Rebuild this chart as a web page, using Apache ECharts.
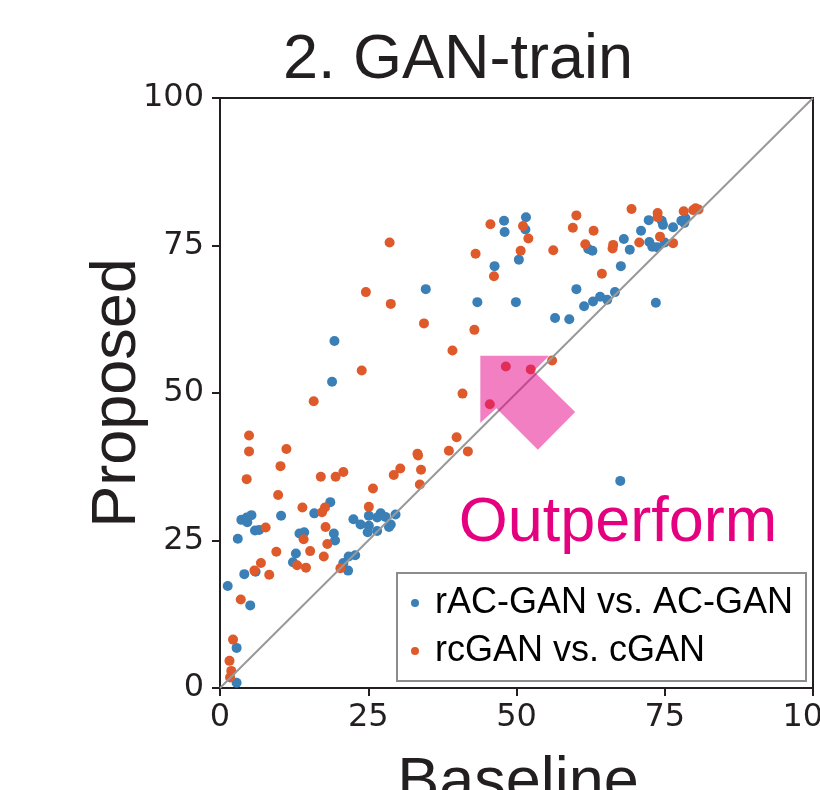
<!DOCTYPE html>
<html style="height: 100%">
    <head>
        <title>GAN-train</title>
        <meta charset="utf-8">
    </head>
    <body style="height: 100%; margin: 0; background: #fff">
        <div id="container" style="width: 820px; height: 790px"></div>

        <script type="text/javascript" src="https://cdn.jsdelivr.net/npm/echarts@6.0.0/dist/echarts.min.js"></script>
        <script type="text/javascript">
            // baseline / proposed scores
            var racgan = [
                [47.9, 79.2], [48.0, 77.3], [46.3, 71.5], [34.7, 67.6], [43.4, 65.4], [19.3, 58.8],
                [18.9, 51.9], [51.6, 79.8], [51.5, 77.7], [50.4, 72.6], [49.9, 65.4], [62.1, 74.4],
                [62.8, 74.1], [68.1, 76.1], [69.1, 74.3], [72.3, 79.3], [74.5, 79.2], [74.7, 78.5],
                [71.0, 77.5], [72.4, 75.6], [72.9, 74.8], [73.7, 74.7], [75.0, 75.5], [76.4, 78.1],
                [77.8, 79.2], [78.3, 78.8], [78.5, 79.6], [67.6, 71.5], [60.1, 67.6], [61.4, 64.7],
                [62.9, 65.5], [64.1, 66.3], [65.3, 65.8], [66.6, 67.1], [73.5, 65.3], [56.5, 62.7],
                [58.9, 62.5], [67.5, 35.1], [10.3, 29.2], [18.6, 31.5], [15.9, 29.6], [19.2, 26.2],
                [19.4, 25.0], [13.4, 26.2], [14.2, 26.4], [12.8, 22.8], [12.3, 21.3], [6.0, 19.7],
                [5.9, 26.7], [6.6, 26.8], [3.6, 28.5], [4.6, 28.1], [4.5, 28.9], [5.3, 29.3],
                [3.0, 25.3], [4.1, 19.3], [1.3, 17.3], [5.1, 14.0], [2.8, 6.8], [2.8, 0.9],
                [22.5, 28.6], [23.7, 27.7], [25.1, 29.2], [25.1, 27.5], [24.9, 26.4], [26.5, 26.6],
                [27.1, 29.6], [27.9, 29.0], [28.8, 27.7], [29.6, 29.4], [26.5, 28.9], [28.5, 27.3],
                [20.8, 21.2], [21.7, 22.3], [22.8, 22.5], [21.6, 19.9]
            ];
            var rcgan = [
                [45.6, 78.6], [28.6, 75.5], [43.1, 73.6], [46.2, 69.8], [24.6, 67.1], [28.8, 65.1],
                [34.4, 61.8], [42.9, 60.7], [39.2, 57.2], [23.9, 53.8], [48.2, 54.5], [52.4, 54.0],
                [45.5, 48.1], [51.1, 78.3], [52.0, 76.2], [50.7, 74.1], [56.2, 74.2], [60.1, 80.1],
                [59.5, 78.0], [63.0, 77.5], [61.6, 75.2], [66.3, 75.1], [66.2, 74.5], [69.4, 81.2],
                [73.8, 80.5], [73.8, 79.8], [70.7, 75.5], [74.2, 76.5], [76.4, 75.4], [78.2, 80.8],
                [79.8, 81.0], [80.2, 81.3], [80.7, 81.1], [64.4, 70.2], [56.0, 55.5], [15.8, 48.6],
                [40.9, 49.9], [4.9, 42.8], [4.9, 40.1], [11.2, 40.5], [10.2, 37.6], [4.5, 35.4],
                [9.8, 32.7], [17.0, 35.8], [19.5, 35.8], [20.8, 36.6], [13.9, 30.6], [17.2, 29.8],
                [17.7, 30.6], [17.8, 27.3], [18.1, 24.4], [17.5, 22.3], [15.2, 23.2], [14.1, 25.2],
                [13.0, 20.8], [14.5, 20.4], [9.5, 23.1], [6.9, 21.2], [5.8, 19.9], [8.3, 19.2],
                [7.7, 27.2], [3.5, 15.0], [2.2, 8.2], [1.6, 4.6], [1.9, 2.9], [1.7, 1.8],
                [25.1, 30.7], [25.8, 33.8], [29.3, 36.1], [30.4, 37.2], [33.3, 39.7], [33.4, 39.4],
                [33.9, 37.0], [33.7, 34.5], [38.6, 40.2], [39.9, 42.5], [41.8, 40.1], [20.3, 20.3]
            ];
            var diagonal = [[0, 0], [100, 100]];
            var tickValues = [0, 25, 50, 75, 100];
            // arrow outline in data units (points toward the "proposed is better" side)
            var arrow = [[43.9, 56.3], [55.5, 56.3], [52.9, 53.7], [59.9, 46.8], [53.6, 40.4], [46.6, 47.4], [43.9, 44.9]];

            var dark = '#231f20';
            var bigFont = '"Liberation Sans", Arial, sans-serif';
            var tickFont = '"DejaVu Sans", sans-serif';

            var dom = document.getElementById("container");
            var myChart = echarts.init(dom);

            var axisCommon = {
                type: 'value',
                min: 0,
                max: 100,
                interval: 25,
                splitLine: { show: false },
                axisLine: { show: true, lineStyle: { color: dark, width: 2 } },
                axisTick: { show: true, inside: false, length: 8, lineStyle: { color: dark, width: 2 } },
                axisLabel: {
                    fontFamily: tickFont,
                    fontSize: 32,
                    color: dark,
                    showMaxLabel: true,
                    showMinLabel: true,
                    formatter: function (v) { return tickValues.indexOf(v) >= 0 ? String(v) : ''; }
                }
            };

            var option = {
                animation: false,
                backgroundColor: '#fff',
                grid: {
                    left: 220, top: 98, width: 593, height: 590,
                    containLabel: false,
                    outerBoundsMode: 'none',
                    show: true, borderColor: dark, borderWidth: 2, backgroundColor: 'transparent'
                },
                xAxis: echarts.util.merge({ axisLabel: { margin: 14 } }, axisCommon, true),
                yAxis: echarts.util.merge({ axisLabel: { margin: 16 } }, axisCommon, true),
                legend: {
                    left: 397,
                    top: 573,
                    orient: 'vertical',
                    padding: [12, 13, 12, 14],
                    itemGap: 12,
                    itemWidth: 30,
                    itemHeight: 8,
                    icon: 'circle',
                    borderColor: '#8c8c8c',
                    borderWidth: 2,
                    backgroundColor: '#fff',
                    textStyle: { fontFamily: bigFont, fontSize: 36, color: '#000' },
                    data: ['rAC-GAN vs. AC-GAN', 'rcGAN vs. cGAN']
                },
                graphic: [
                    {
                        type: 'text', x: 458, y: 61,
                        style: { text: '2. GAN-train', fontFamily: bigFont, fontSize: 63, fill: dark, align: 'center', verticalAlign: 'middle' }
                    },
                    {
                        type: 'text', x: 118, y: 393, rotation: Math.PI / 2,
                        style: { text: 'Proposed', fontFamily: bigFont, fontSize: 63, fill: dark, align: 'center', verticalAlign: 'middle' }
                    },
                    {
                        type: 'text', x: 518, y: 784,
                        style: { text: 'Baseline', fontFamily: bigFont, fontSize: 63, fill: dark, align: 'center', verticalAlign: 'middle' }
                    },
                    {
                        type: 'text', x: 618, y: 524, z: 100,
                        style: { text: 'Outperform', fontFamily: bigFont, fontSize: 63, fill: '#e4007f', align: 'center', verticalAlign: 'middle' }
                    }
                ],
                series: [
                    {
                        name: 'rAC-GAN vs. AC-GAN',
                        type: 'scatter',
                        data: racgan,
                        symbolSize: 10,
                        itemStyle: { color: '#3a7fb6', opacity: 1 },
                        z: 2
                    },
                    {
                        name: 'rcGAN vs. cGAN',
                        type: 'scatter',
                        data: rcgan,
                        symbolSize: 10,
                        itemStyle: { color: '#df5a2a', opacity: 1 },
                        z: 2
                    },
                    {
                        type: 'line',
                        data: diagonal,
                        showSymbol: false,
                        silent: true,
                        lineStyle: { color: '#999', width: 2 },
                        z: 3
                    },
                    {
                        type: 'custom',
                        silent: true,
                        z: 4,
                        data: [0],
                        renderItem: function (params, api) {
                            return {
                                type: 'polygon',
                                shape: { points: arrow.map(function (p) { return api.coord(p); }) },
                                style: { fill: 'rgba(232, 0, 136, 0.5)' }
                            };
                        }
                    }
                ]
            };

            myChart.setOption(option);
            window.onresize = function () {
                myChart.resize();
            }
        </script>
    </body>
</html>
